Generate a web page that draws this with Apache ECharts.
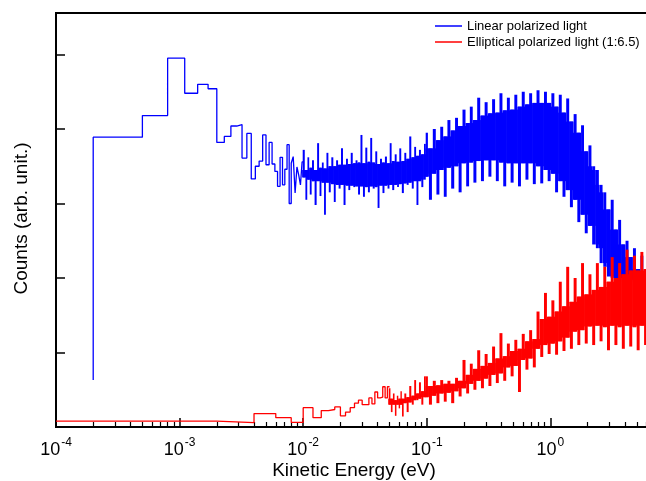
<!DOCTYPE html>
<html><head><meta charset="utf-8">
<script src="https://cdn.jsdelivr.net/npm/echarts@6/dist/echarts.min.js"></script>
<style>html,body{margin:0;padding:0;background:#fff}#c{width:646px;height:481px}</style>
</head><body><div id="c"></div>
<script>
const FONT = '"Liberation Sans", Arial, Helvetica, sans-serif';
const BLUE = '#0000ff', RED = '#ff0000';

const seriesNames = ['Linear polarized light', 'Elliptical polarized light (1:6.5)'];

// Linear polarized light: coarse histogram, bin left edges (eV) and counts (last point = right edge)
const blueLowE = [2e-4, 2e-4, 5e-4, 8e-4, 1.1e-3, 1.4e-3, 1.7e-3, 2.0e-3, 2.3e-3, 2.6e-3, 2.9e-3, 3.2e-3, 3.5e-3, 3.8e-3, 4.1e-3, 4.4e-3, 4.7e-3, 5.0e-3, 5.3e-3, 5.6e-3, 5.9e-3, 6.2e-3, 6.5e-3, 6.8e-3, 7.1e-3, 7.4e-3, 7.7e-3, 8.0e-3, 8.3e-3, 8.6e-3, 8.9e-3, 9.2e-3, 9.5e-3, 9.8e-3, 0.0101];
const blueLowV = [0.63, 3.89, 4.18, 4.95, 4.48, 4.60, 4.54, 3.82, 3.90, 4.04, 4.06, 3.61, 3.94, 3.33, 3.50, 3.57, 3.92, 3.52, 3.82, 3.53, 3.43, 3.23, 3.62, 3.25, 3.46, 3.79, 3.00, 3.54, 3.63, 3.14, 3.49, 3.38, 3.25, 3.56, 3.56];
// Linear: noisy region 0.01-0.1 eV, per column low / high extremes
const blueNoiseE = [0.0101, 0.0106, 0.011, 0.0115, 0.012, 0.0126, 0.0132, 0.0138, 0.0144, 0.015, 0.0157, 0.0164, 0.0172, 0.018, 0.0188, 0.0197, 0.0206, 0.0216, 0.0226, 0.0236, 0.0247, 0.0259, 0.027, 0.0283, 0.0296, 0.031, 0.0324, 0.034, 0.0355, 0.0372, 0.039, 0.0407, 0.0426, 0.0446, 0.0467, 0.049, 0.051, 0.0535, 0.056, 0.0585, 0.061, 0.064, 0.067, 0.07, 0.0735, 0.077, 0.0805, 0.084, 0.088, 0.092, 0.0965];
const blueNoiseHi = [3.72, 3.45, 3.62, 3.48, 3.58, 3.45, 3.81, 3.48, 3.55, 3.47, 3.68, 3.50, 3.62, 3.50, 3.58, 3.52, 3.74, 3.52, 3.60, 3.53, 3.68, 3.54, 3.58, 3.55, 3.92, 3.54, 3.75, 3.56, 3.88, 3.55, 3.70, 3.53, 3.60, 3.55, 3.63, 3.54, 3.81, 3.57, 3.66, 3.56, 3.74, 3.57, 3.68, 3.60, 3.90, 3.62, 3.76, 3.64, 3.72, 3.66, 3.80];
const blueNoiseLo = [3.35, 3.05, 3.32, 3.12, 3.30, 2.98, 3.30, 3.10, 3.28, 2.85, 3.28, 3.15, 3.26, 3.02, 3.25, 3.20, 3.25, 2.98, 3.24, 3.18, 3.24, 3.22, 3.23, 3.12, 3.23, 3.09, 3.22, 3.15, 3.23, 3.20, 3.22, 2.94, 3.24, 3.14, 3.24, 3.20, 3.25, 3.18, 3.25, 3.22, 3.26, 3.14, 3.27, 3.25, 3.28, 3.20, 3.30, 2.98, 3.30, 3.22, 3.32];

// dense region: energies of the sampled columns (eV)
const bandE = [0.1, 0.107, 0.115, 0.123, 0.132, 0.141, 0.151, 0.162, 0.174, 0.186,
  0.2, 0.214, 0.229, 0.245, 0.263, 0.282, 0.302, 0.324, 0.347, 0.372,
  0.398, 0.427, 0.457, 0.49, 0.525, 0.562, 0.603, 0.646, 0.692, 0.741,
  0.794, 0.851, 0.912, 0.977, 1.047, 1.122, 1.202, 1.288, 1.38, 1.479,
  1.585, 1.698, 1.82, 1.95, 2.089, 2.239, 2.399, 2.57, 2.754, 2.951,
  3.162, 3.388, 3.631, 3.89, 4.169, 4.467, 4.786, 5.129, 5.495, 5.888, 6.31];
const blueBandHi = [3.95, 3.74, 4.00, 3.85, 4.03, 3.90, 4.12, 3.98, 4.15, 4.04,
  4.26, 4.08, 4.30, 4.12, 4.42, 4.18, 4.36, 4.21, 4.40, 4.22,
  4.48, 4.25, 4.42, 4.26, 4.46, 4.30, 4.50, 4.33, 4.48, 4.35,
  4.52, 4.35, 4.50, 4.35, 4.48, 4.30, 4.46, 4.22, 4.41, 4.10,
  4.20, 3.95, 4.05, 3.70, 3.78, 3.50, 3.45, 3.25, 3.15, 2.92,
  3.05, 2.65, 2.78, 2.45, 2.50, 2.28, 2.40, 2.12, 2.30, 2.08, 2.20];
const blueBandLo = [3.36, 3.05, 3.40, 3.12, 3.45, 3.09, 3.48, 3.20, 3.50, 3.15,
  3.54, 3.23, 3.55, 3.28, 3.57, 3.30, 3.58, 3.36, 3.58, 3.30,
  3.55, 3.23, 3.54, 3.28, 3.54, 3.23, 3.54, 3.32, 3.54, 3.26,
  3.50, 3.27, 3.45, 3.30, 3.40, 3.15, 3.30, 3.09, 3.18, 2.95,
  3.05, 2.75, 2.85, 2.60, 2.70, 2.45, 2.40, 2.20, 2.15, 2.02,
  2.00, 1.95, 2.00, 1.95, 1.98, 1.95, 1.98, 1.95, 1.98, 1.95, 1.95];

// Elliptical polarized light: coarse histogram (last point = right edge)
const redLowE = [1e-4, 2e-3, 4e-3, 6e-3, 8e-3, 1.0e-2, 1.2e-2, 1.4e-2, 1.6e-2, 1.8e-2, 2.0e-2, 2.2e-2, 2.4e-2, 2.6e-2, 2.8e-2, 3.0e-2, 3.2e-2, 3.4e-2, 3.6e-2, 3.8e-2, 4.0e-2, 4.2e-2, 4.4e-2, 4.6e-2, 4.8e-2, 5.0e-2];
const redLowV = [0.08, 0.058, 0.18, 0.125, 0.063, 0.26, 0.125, 0.22, 0.235, 0.27, 0.15, 0.20, 0.26, 0.32, 0.36, 0.30, 0.30, 0.39, 0.31, 0.47, 0.39, 0.40, 0.54, 0.39, 0.54, 0.54];
const redNoiseE = [0.05, 0.052, 0.054, 0.056, 0.058, 0.06, 0.062, 0.064, 0.067, 0.07, 0.0735, 0.077, 0.0805, 0.084, 0.088, 0.092, 0.0965];
const redNoiseLo = [0.30, 0.20, 0.30, 0.15, 0.30, 0.25, 0.30, 0.14, 0.32, 0.20, 0.33, 0.30, 0.36, 0.36, 0.38, 0.30, 0.40];
const redNoiseHi = [0.52, 0.38, 0.45, 0.36, 0.42, 0.38, 0.48, 0.38, 0.45, 0.40, 0.55, 0.42, 0.63, 0.45, 0.60, 0.48, 0.68];
const redBandHi = [0.68, 0.55, 0.62, 0.56, 0.63, 0.58, 0.62, 0.58, 0.66, 0.62,
  0.90, 0.70, 0.85, 0.78, 1.03, 0.82, 0.98, 0.86, 1.08, 0.92,
  1.26, 0.95, 1.12, 1.02, 1.17, 1.05, 1.25, 1.15, 1.30, 1.18,
  1.55, 1.45, 1.80, 1.48, 1.70, 1.55, 1.95, 1.62, 2.15, 1.68,
  2.00, 1.75, 2.20, 1.78, 2.05, 1.84, 2.20, 1.88, 2.15, 1.95,
  2.28, 2.00, 2.20, 2.05, 2.38, 2.10, 2.30, 2.10, 2.35, 2.12, 2.30];
const redBandLo = [0.40, 0.30, 0.42, 0.32, 0.45, 0.34, 0.46, 0.32, 0.48, 0.41,
  0.52, 0.45, 0.58, 0.50, 0.62, 0.52, 0.65, 0.55, 0.70, 0.59,
  0.72, 0.62, 0.80, 0.68, 0.82, 0.47, 0.90, 0.77, 0.92, 0.80,
  1.05, 0.94, 1.10, 0.98, 1.12, 0.97, 1.15, 1.02, 1.20, 1.05,
  1.28, 1.10, 1.30, 1.12, 1.35, 1.10, 1.36, 1.15, 1.34, 1.03,
  1.36, 1.10, 1.34, 1.05, 1.36, 1.08, 1.34, 1.03, 1.36, 1.10, 1.34];

// axis decorations
const yTickStep = 1;
const minorExps = [];
for (let d = -4; d <= 0; d++) for (let m = 2; m <= 9; m++) minorExps.push(d + Math.log10(m));

function pairs(E, V) { return E.map((e, i) => [e, V[i]]); }

function stepSeries(name, E, V, color, z) {
  return { name, type: 'line', step: 'end', data: pairs(E, V), symbol: 'none', z,
    lineStyle: { color, width: 1.3 }, itemStyle: { color }, silent: true };
}
// noisy histogram region: each column = spike from its low to high value,
// plus a filled core where it overlaps its neighbours
function noiseSeries(id, E, lo, hi, color, z) {
  const n = E.length;
  return {
    name: id, type: 'custom', coordinateSystem: 'cartesian2d', silent: true, clip: true, z,
    encode: { x: 0, y: [1, 2] },
    data: E.map((e, i) => [e, lo[i], hi[i]]),
    renderItem(params, api) {
      const i = params.dataIndex;
      const x = api.coord([E[i], 1])[0];
      const xp = i > 0 ? api.coord([E[i - 1], 1])[0] : null;
      const xn = i < n - 1 ? api.coord([E[i + 1], 1])[0] : null;
      const xl = xp !== null ? (xp + x) / 2 : x - (xn - x) / 2;
      const xr = xn !== null ? (xn + x) / 2 : x + (x - xp) / 2;
      const w = Math.max(1.4, (xr - xl) * 0.8);
      const a = Math.max(0, i - 1), b = Math.min(n - 1, i + 1);
      const cHi = Math.min(hi[a], hi[i], hi[b]);
      const cLo = Math.max(lo[a], lo[i], lo[b]);
      const yh = api.coord([E[i], hi[i]])[1], yl = api.coord([E[i], lo[i]])[1];
      const children = [{ type: 'rect', shape: { x: x - w / 2, y: yh, width: w, height: yl - yh }, style: { fill: color } }];
      if (cHi > cLo) {
        const ch = api.coord([E[i], cHi])[1], cl = api.coord([E[i], cLo])[1];
        children.push({ type: 'rect', shape: { x: xl - 0.3, y: ch, width: xr - xl + 0.6, height: cl - ch }, style: { fill: color } });
      }
      return { type: 'group', children };
    }
  };
}

const series = [
  stepSeries(seriesNames[0], blueLowE, blueLowV, BLUE, 3),
  noiseSeries('blueNoise', blueNoiseE.concat(bandE), blueNoiseLo.concat(blueBandLo), blueNoiseHi.concat(blueBandHi), BLUE, 2),
  stepSeries(seriesNames[1], redLowE, redLowV, RED, 5),
  noiseSeries('redNoise', redNoiseE.concat(bandE), redNoiseLo.concat(redBandLo), redNoiseHi.concat(redBandHi), RED, 4)
];

const chart = echarts.init(document.getElementById('c'), null, { renderer: 'canvas' });
chart.setOption({
  animation: false,
  backgroundColor: '#fff',
  grid: { left: 56, top: 13, width: 618, height: 414, show: true, borderColor: '#000', borderWidth: 2,
    backgroundColor: 'transparent', outerBoundsMode: 'none', containLabel: false },
  legend: {
    left: 435, top: 19.5, orient: 'vertical', padding: 0, itemWidth: 27, itemHeight: 1.5, itemGap: 3,
    icon: 'rect', selectedMode: false,
    textStyle: { fontSize: 13, fontFamily: FONT, color: '#000' },
    data: seriesNames
  },
  xAxis: [
    { type: 'log', logBase: 10, min: 1e-4, max: 10,
      axisLine: { onZero: false, lineStyle: { color: '#000', width: 2 } },
      axisTick: { inside: true, length: 9, lineStyle: { color: '#000', width: 1.5 } },
      splitLine: { show: false },
      axisLabel: {
        margin: 10,
        formatter: v => '{b|10}{s|' + Math.round(Math.log10(v)) + '}',
        rich: {
          b: { fontSize: 18, fontFamily: FONT, color: '#000', lineHeight: 22, verticalAlign: 'bottom' },
          s: { fontSize: 12, fontFamily: FONT, color: '#000', lineHeight: 22, verticalAlign: 'top', padding: [0, 0, 0, 1] }
        }
      }
    },
    { type: 'value', min: -4, max: 1, position: 'bottom', gridIndex: 0,
      axisLine: { show: false, onZero: false }, axisLabel: { show: false }, splitLine: { show: false },
      axisTick: { inside: true, length: 5, customValues: minorExps, lineStyle: { color: '#000', width: 1.2 } }
    }
  ],
  yAxis: {
    type: 'value', min: 0, max: 5.557, interval: yTickStep,
    axisLine: { onZero: false, lineStyle: { color: '#000', width: 2 } },
    axisTick: { inside: true, length: 9, lineStyle: { color: '#000', width: 1.5 } },
    axisLabel: { show: false }, splitLine: { show: false }
  },
  graphic: [
    { type: 'text', x: 354, y: 471, style: { text: 'Kinetic Energy (eV)', fontSize: 19, fontFamily: FONT, fill: '#000', align: 'center', verticalAlign: 'middle' } },
    { type: 'text', x: 21.5, y: 218.5, rotation: Math.PI / 2, style: { text: 'Counts (arb. unit.)', fontSize: 19, fontFamily: FONT, fill: '#000', align: 'center', verticalAlign: 'middle' } }
  ],
  series
});
</script></body></html>
